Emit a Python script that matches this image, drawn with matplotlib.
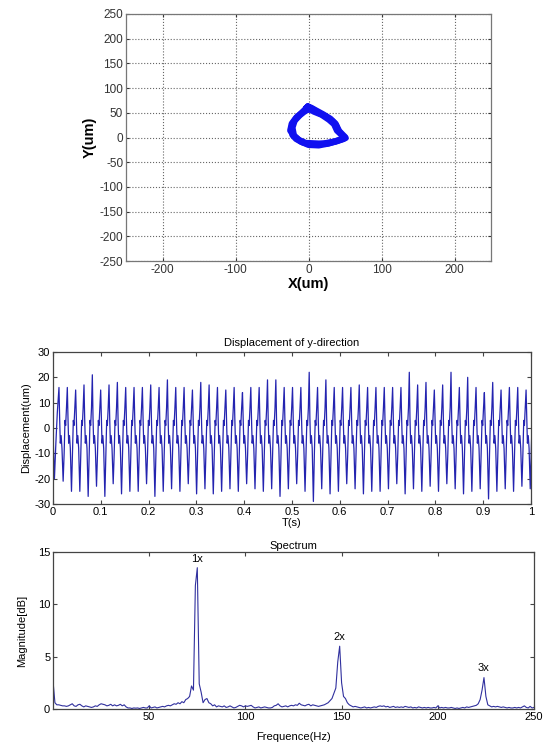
import numpy as np
import matplotlib
matplotlib.use("Agg")
from matplotlib import pyplot as plt
from matplotlib.ticker import FuncFormatter

plt.rcParams['font.family'] = ['Liberation Sans', 'DejaVu Sans']
plt.rcParams['axes.unicode_minus'] = False

# orbit (passes of the shaft centre), um
orbit_x1 = [-3, 1, 6, 14, 24, 33, 38, 42, 50, 44, 36, 25, 12, 2, -8, -17, -22, -24, -21, -16, -9, -5, -3]
orbit_y1 = [60, 61, 57, 50, 42, 33, 25, 13, 1, -4, -8, -11, -14, -14, -10, -3, 5, 17, 30, 41, 50, 56, 60]
orbit_x2 = [-1, 4, 10, 20, 30, 37, 40, 46, 51, 41, 28, 14, 0, -11, -19, -25, -23, -17, -10, -4, -1]
orbit_y2 = [63, 60, 55, 47, 38, 28, 16, 4, -1, -6, -12, -16, -15, -8, 2, 14, 28, 40, 49, 57, 63]
orbit_x3 = [0, 8, 18, 28, 35, 39, 47, 48, 38, 24, 10, -4, -13, -20, -22, -19, -12, -6, 0]
orbit_y3 = [58, 52, 46, 36, 27, 14, 3, -3, -8, -13, -12, -11, -5, 4, 20, 34, 45, 52, 58]

# y-direction displacement, per-cycle peak / trough (um)
peak_vals = [16, 16, 15, 17, 21, 15, 17, 18, 16, 16,
             16, 17, 16, 19, 16, 16, 15, 18, 17, 16,
             15, 16, 14, 16, 16, 19, 19, 16, 16, 16,
             22, 16, 19, 16, 16, 16, 17, 16, 16, 16,
             16, 16, 22, 17, 18, 15, 17, 22, 16, 20,
             16, 14, 18, 15, 16, 16, 15]
trough_vals = [-21, -25, -25, -27, -23, -27, -22, -26, -25, -25,
               -22, -27, -25, -24, -25, -22, -26, -24, -26, -25,
               -24, -25, -22, -24, -25, -24, -27, -24, -22, -25,
               -29, -24, -26, -25, -22, -24, -26, -25, -25, -24,
               -22, -26, -24, -25, -23, -25, -22, -24, -26, -25,
               -24, -28, -25, -24, -25, -23, -24]
# in-cycle levels between peak and trough
cycle_phase = [0.0, 0.08, 0.16, 0.26, 0.36, 0.50, 0.62, 0.72, 0.80, 0.90]
cycle_level = [None, 4, -6, -3, -8, None, -10, 3, 1, 8]
lead_t = [0.0, 0.003, 0.006, 0.009]
lead_y = [-2, -20, -6, 6]
first_peak = 0.0125
period = 0.01745

# spectrum, 1 Hz bins 0..250
freq = np.arange(0, 251)
magnitude = [
    2.7, 0.6, 0.4, 0.4, 0.35, 0.3, 0.3, 0.25, 0.3, 0.4,
    0.5, 0.3, 0.25, 0.4, 0.45, 0.3, 0.2, 0.3, 0.25, 0.2,
    0.15, 0.2, 0.3, 0.25, 0.4, 0.5, 0.45, 0.4, 0.3, 0.35,
    0.45, 0.3, 0.4, 0.3, 0.35, 0.45, 0.3, 0.4, 0.2, 0.1,
    0.1, 0.05, 0.1, 0.08, 0.1, 0.05, 0.1, 0.15, 0.1, 0.1,
    0.3, 0.1, 0.15, 0.2, 0.1, 0.15, 0.2, 0.25, 0.2, 0.3,
    0.35, 0.3, 0.4, 0.5, 0.45, 0.6, 0.5, 0.7, 0.6, 0.9,
    1.0, 1.2, 2.2, 1.8, 11.8, 13.5, 2.4, 1.6, 0.6, 0.9,
    1.0, 0.6, 0.5, 0.3, 0.4, 0.2, 0.3, 0.25, 0.2, 0.3,
    0.15, 0.2, 0.3, 0.2, 0.1, 0.15, 0.25, 0.35, 0.3, 0.2,
    0.3, 0.25, 0.3, 0.35, 0.2, 0.1, 0.15, 0.2, 0.1, 0.15,
    0.2, 0.15, 0.1, 0.1, 0.15, 0.3, 0.35, 0.5, 0.3, 0.2,
    0.25, 0.3, 0.2, 0.3, 0.35, 0.3, 0.4, 0.35, 0.55, 0.4,
    0.35, 0.3, 0.4, 0.45, 0.3, 0.4, 0.35, 0.3, 0.25, 0.3,
    0.35, 0.4, 0.5, 0.6, 0.8, 1.0, 1.5, 2.0, 4.5, 6.0,
    2.5, 1.2, 1.0, 0.6, 0.4, 0.3, 0.2, 0.25, 0.2, 0.15,
    0.1, 0.15, 0.2, 0.1, 0.15, 0.1, 0.15, 0.2, 0.15, 0.25,
    0.3, 0.25, 0.3, 0.2, 0.25, 0.15, 0.2, 0.25, 0.15, 0.2,
    0.15, 0.2, 0.15, 0.25, 0.2, 0.15, 0.2, 0.1, 0.15, 0.1,
    0.2, 0.15, 0.1, 0.15, 0.1, 0.15, 0.1, 0.1, 0.15, 0.1,
    0.3, 0.1, 0.15, 0.1, 0.15, 0.1, 0.1, 0.15, 0.1, 0.05,
    0.1, 0.05, 0.1, 0.15, 0.1, 0.2, 0.15, 0.2, 0.25, 0.3,
    0.35, 0.5, 0.9, 1.8, 3.0, 1.2, 0.4, 0.3, 0.2, 0.25,
    0.2, 0.25, 0.2, 0.15, 0.2, 0.15, 0.1, 0.15, 0.1, 0.1,
    0.15, 0.1, 0.15, 0.1, 0.2, 0.3, 0.15, 0.1, 0.25, 0.1,
    0.15]
harmonic_labels = ['1x', '2x', '3x']
harmonic_freq = [75, 149, 224]
harmonic_mag = [13.5, 6.0, 3.0]

# build the displacement polyline
t_sig = list(lead_t)
y_sig = list(lead_y)
for i in range(len(peak_vals)):
    t0 = first_peak + i*period
    for ph, lv in zip(cycle_phase, cycle_level):
        t_sig.append(t0 + ph*period)
        if ph == 0.0:
            y_sig.append(peak_vals[i])
        elif lv is None:
            y_sig.append(trough_vals[i])
        else:
            y_sig.append(lv)
t_sig = np.array(t_sig)
y_sig = np.array(y_sig)


def matlab_box(ax, edge='#444444'):
    for s in ax.spines.values():
        s.set_color(edge)
        s.set_linewidth(0.9)
    ax.tick_params(direction='in', top=True, right=True, length=3,
                   width=0.8, color='#444444', labelsize=8, pad=2)


fig = plt.figure(figsize=(5.43, 7.46), dpi=100)

# ---- orbit
ax1 = fig.add_axes([126/543, 1-261/746, 365/543, 247/746])
for ox, oy in [(orbit_x1, orbit_y1), (orbit_x2, orbit_y2), (orbit_x3, orbit_y3)]:
    ax1.plot(ox, oy, color='#1010f0', lw=4.5, solid_joinstyle='round',
             solid_capstyle='round')
ax1.set_xlim(-250, 250)
ax1.set_ylim(-250, 250)
ax1.set_xticks([-200, -100, 0, 100, 200])
ax1.set_yticks(np.arange(-250, 251, 50))
ax1.grid(True, ls=':', color='#666666', lw=0.8)
matlab_box(ax1, '#777777')
ax1.tick_params(labelsize=8.5, colors='#333333', length=2)
ax1.set_xlabel('X(um)', fontsize=10.5, fontweight='bold', labelpad=1)
ax1.set_ylabel('Y(um)', fontsize=10.5, fontweight='bold', labelpad=2)

# ---- time signal
ax2 = fig.add_axes([53/543, 1-504/746, 478/543, 152/746])
ax2.plot(t_sig, y_sig, color='#2424b0', lw=0.9)
ax2.set_xlim(0, 1)
ax2.set_ylim(-30, 30)
ax2.set_xticks(np.arange(0, 1.01, 0.1))
ax2.set_yticks(np.arange(-30, 31, 10))
ax2.xaxis.set_major_formatter(FuncFormatter(lambda v, p: f'{v:g}'))
matlab_box(ax2)
ax2.set_title('Displacement of y-direction', fontsize=8, pad=4)
ax2.set_xlabel('T(s)', fontsize=8, labelpad=1)
ax2.set_ylabel('Displacement(um)', fontsize=8, labelpad=2)

# ---- spectrum
ax3 = fig.add_axes([53/543, 1-709/746, 481/543, 157/746])
ax3.plot(freq, magnitude, color='#30309e', lw=0.8)
ax3.set_xlim(0, 250)
ax3.set_ylim(0, 15)
ax3.set_xticks([50, 100, 150, 200, 250])
ax3.set_yticks([0, 5, 10, 15])
matlab_box(ax3)
for lab, fx, my in zip(harmonic_labels, harmonic_freq, harmonic_mag):
    ax3.text(fx, my + 0.4, lab, ha='center', va='bottom', fontsize=8)
ax3.set_title('Spectrum', fontsize=8, pad=2)
ax3.set_xlabel('Frequence(Hz)', fontsize=8, labelpad=7)
ax3.set_ylabel('Magnitude[dB]', fontsize=8, labelpad=8)

fig.savefig('out.png', dpi=100)
